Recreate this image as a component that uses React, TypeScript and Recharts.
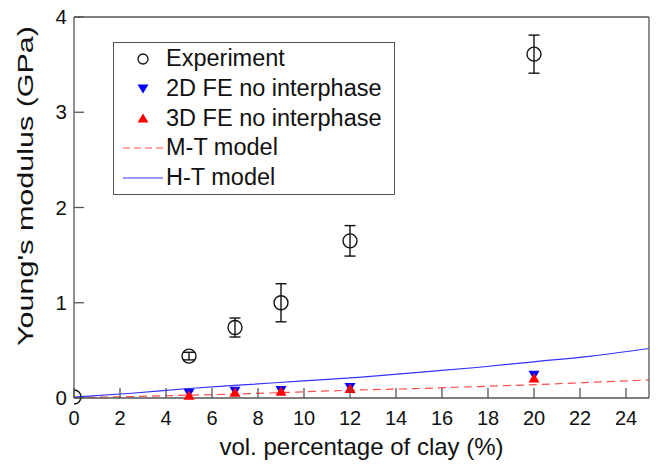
import React from 'react';
import { ComposedChart, Line, Scatter, XAxis, YAxis, ErrorBar, Legend } from 'recharts';

// experiment (with error bars)
const expClay = [0, 5, 7, 9, 12, 20];
const expModulus = [0.01, 0.44, 0.74, 1.0, 1.65, 3.61];
const expError = [0, 0.04, 0.1, 0.2, 0.16, 0.2];

// finite element results
const feClay = [5, 7, 9, 12, 20];
const fe2dModulus = [0.05, 0.07, 0.08, 0.11, 0.24];
const fe3dModulus = [0.03, 0.06, 0.07, 0.1, 0.21];

// analytical models
const modelClay = [0, 2.5, 5, 7.5, 10, 12.5, 15, 17.5, 20, 22.5, 25];
const mtModulus = [0.005, 0.015, 0.03, 0.045, 0.065, 0.085, 0.1, 0.12, 0.14, 0.165, 0.19];
const htModulus = [0.01, 0.05, 0.1, 0.14, 0.18, 0.22, 0.27, 0.32, 0.38, 0.44, 0.52];

const xTicks = [0, 2, 4, 6, 8, 10, 12, 14, 16, 18, 20, 22, 24];
const yTicks = [0, 1, 2, 3, 4];

const seriesNames = ['Experiment', '2D FE no interphase', '3D FE no interphase', 'M-T model', 'H-T model'];

const AXIS = '#555';
const INK = '#111';
const BLUE = '#0000ff';
const RED = '#ff0000';
const FONT = '"Liberation Sans", Arial, Helvetica, sans-serif';

const expData = expClay.map((x, i) => ({ x, y: expModulus[i], err: expError[i] }));
const fe2dData = feClay.map((x, i) => ({ x, y: fe2dModulus[i] }));
const fe3dData = feClay.map((x, i) => ({ x, y: fe3dModulus[i] }));
const mtData = modelClay.map((x, i) => ({ x, y: mtModulus[i] }));
const htData = modelClay.map((x, i) => ({ x, y: htModulus[i] }));

// MATLAB style: ticks point into the box
function BottomTick({ x, y, payload }: any) {
  return (
    <g>
      <line x1={x} x2={x} y1={y} y2={y - 10} stroke={AXIS} strokeWidth={1.3} />
      <text x={x} y={y + 27} textAnchor="middle" fontSize={20} fill={INK} fontFamily={FONT}>
        {payload.value}
      </text>
    </g>
  );
}

function LeftTick({ x, y, payload }: any) {
  return (
    <g>
      <line x1={x} x2={x + 10} y1={y} y2={y} stroke={AXIS} strokeWidth={1.3} />
      <text x={x - 7} y={y + 7} textAnchor="end" fontSize={20.5} fill={INK} fontFamily={FONT}>
        {payload.value}
      </text>
    </g>
  );
}

function TopTick({ x, y }: any) {
  return <line x1={x} x2={x} y1={y} y2={y + 10} stroke={AXIS} strokeWidth={1.3} />;
}

function RightTick({ x, y }: any) {
  return <line x1={x} x2={x - 10} y1={y} y2={y} stroke={AXIS} strokeWidth={1.3} />;
}

function DownTriangle({ cx, cy }: any) {
  return <polygon points={`${cx - 5.5},${cy - 4.5} ${cx + 5.5},${cy - 4.5} ${cx},${cy + 5}`} fill={BLUE} />;
}

function UpTriangle({ cx, cy }: any) {
  return <polygon points={`${cx - 5.5},${cy + 4.5} ${cx + 5.5},${cy + 4.5} ${cx},${cy - 5}`} fill={RED} />;
}

function HollowCircle({ cx, cy }: any) {
  return <circle cx={cx} cy={cy} r={7} fill="none" stroke={INK} strokeWidth={1.4} />;
}

function YLabel({ viewBox }: any) {
  const cx = viewBox.x + 33;
  const cy = viewBox.y + 169;
  return (
    <text
      transform={`translate(${cx},${cy}) rotate(-90)`}
      textAnchor="middle"
      fontSize={22}
      fill={INK}
      fontFamily={FONT}
      textLength={320}
      lengthAdjust="spacingAndGlyphs"
    >
      Young's modulus (GPa)
    </text>
  );
}

function LegendIcon({ idx }: { idx: number }) {
  return (
    <svg width={52} height={30} style={{ flex: 'none' }}>
      {idx === 0 && <circle cx={29} cy={15} r={5} fill="none" stroke={INK} strokeWidth={1.3} />}
      {idx === 1 && <polygon points="23.5,10.5 34.5,10.5 29,19.5" fill={BLUE} />}
      {idx === 2 && <polygon points="23.5,19.5 34.5,19.5 29,10.5" fill={RED} />}
      {idx === 3 && <line x1={9} x2={49} y1={15} y2={15} stroke="#ff4d4d" strokeWidth={1.2} strokeDasharray="7 4" />}
      {idx === 4 && <line x1={9} x2={49} y1={15} y2={15} stroke="#3333ff" strokeWidth={1.2} />}
    </svg>
  );
}

function LegendBox() {
  return (
    <div
      style={{
        width: 280,
        height: 150,
        border: `1px solid ${AXIS}`,
        background: '#fff',
        paddingTop: 1,
        boxSizing: 'content-box',
        fontFamily: FONT,
        fontSize: 23.5,
        color: INK,
      }}
    >
      {seriesNames.map((name, i) => (
        <div key={name} style={{ display: 'flex', alignItems: 'center', height: 29.7 }}>
          <LegendIcon idx={i} />
          <span style={{ whiteSpace: 'nowrap', lineHeight: '29px' }}>{name}</span>
        </div>
      ))}
    </div>
  );
}

export default function App() {
  return (
    <div style={{ position: 'absolute', left: 0, top: 0, width: 659, height: 464, background: '#fff' }}>
      <ComposedChart width={659} height={464} margin={{ top: 0, right: 0, bottom: 0, left: 0 }}>
        <XAxis
          xAxisId="bottom"
          dataKey="x"
          type="number"
          domain={[0, 25]}
          ticks={xTicks}
          allowDataOverflow
          height={66}
          tickSize={0}
          tickMargin={0}
          stroke={AXIS}
          strokeWidth={1.3}
          tick={<BottomTick />}
          label={{ value: 'vol. percentage of clay (%)', position: 'insideBottom', offset: 9, fontSize: 24, fill: INK, fontFamily: FONT }}
        />
        <XAxis
          xAxisId="top"
          orientation="top"
          dataKey="x"
          type="number"
          domain={[0, 25]}
          ticks={xTicks}
          height={17}
          tickSize={0}
          tickMargin={0}
          stroke={AXIS}
          strokeWidth={1.3}
          tick={<TopTick />}
        />
        <YAxis
          yAxisId="left"
          type="number"
          domain={[0, 4]}
          ticks={yTicks}
          width={74}
          tickSize={0}
          tickMargin={0}
          stroke={AXIS}
          strokeWidth={1.3}
          tick={<LeftTick />}
          label={<YLabel />}
        />
        <YAxis
          yAxisId="right"
          orientation="right"
          type="number"
          domain={[0, 4]}
          ticks={yTicks}
          width={10}
          tickSize={0}
          tickMargin={0}
          stroke={AXIS}
          strokeWidth={1.3}
          tick={<RightTick />}
        />
        <Line
          xAxisId="bottom"
          yAxisId="left"
          data={mtData}
          dataKey="y"
          name={seriesNames[3]}
          type="monotone"
          stroke="#ff4d4d"
          strokeWidth={1.2}
          strokeDasharray="8 5"
          dot={false}
          isAnimationActive={false}
        />
        <Line
          xAxisId="bottom"
          yAxisId="left"
          data={htData}
          dataKey="y"
          name={seriesNames[4]}
          type="monotone"
          stroke="#3333ff"
          strokeWidth={1.2}
          dot={false}
          isAnimationActive={false}
        />
        <Scatter
          xAxisId="bottom"
          yAxisId="left"
          data={fe2dData}
          dataKey="y"
          name={seriesNames[1]}
          shape={<DownTriangle />}
          isAnimationActive={false}
        />
        <Scatter
          xAxisId="bottom"
          yAxisId="left"
          data={fe3dData}
          dataKey="y"
          name={seriesNames[2]}
          shape={<UpTriangle />}
          isAnimationActive={false}
        />
        <Scatter
          xAxisId="bottom"
          yAxisId="left"
          data={expData}
          dataKey="y"
          name={seriesNames[0]}
          shape={<HollowCircle />}
          isAnimationActive={false}
        >
          <ErrorBar dataKey="err" direction="y" width={5.5} stroke={INK} strokeWidth={1.4} isAnimationActive={false} />
        </Scatter>
        <Legend
          layout="vertical"
          align="center"
          verticalAlign="middle"
          content={() => <LegendBox />}
          wrapperStyle={{ position: 'absolute', left: 113, top: 42, width: 282, height: 152 }}
        />
      </ComposedChart>
    </div>
  );
}
